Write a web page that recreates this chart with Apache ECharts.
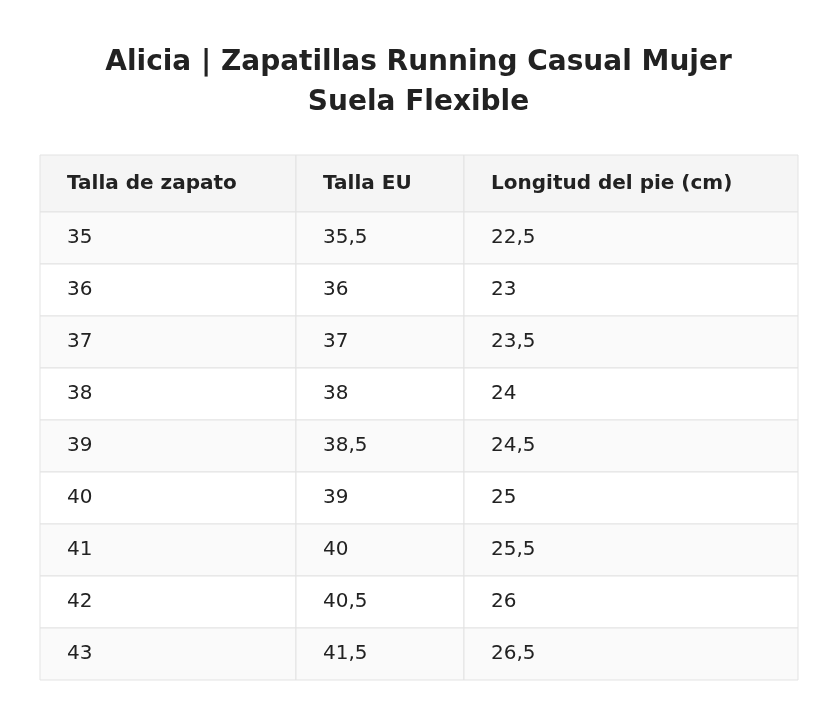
<!DOCTYPE html>
<html>
<head>
<meta charset="utf-8">
<script src="https://cdn.jsdelivr.net/npm/echarts@6/dist/echarts.min.js"></script>
<style>html,body{margin:0;padding:0;background:#fff}#chart{width:837px;height:720px}</style>
</head>
<body>
<div id="chart"></div>
<script>
var chart = echarts.init(document.getElementById('chart'));

var headers = ['Talla de zapato', 'Talla EU', 'Longitud del pie (cm)'];
var shoeSizes = ['35', '36', '37', '38', '39', '40', '41', '42', '43'];
var euSizes = ['35,5', '36', '37', '38', '38,5', '39', '40', '40,5', '41,5'];
var footLength = ['22,5', '23', '23,5', '24', '24,5', '25', '25,5', '26', '26,5'];

// layout in pixels
var colEdges = [40, 296, 464, 798];
var tableTop = 155, headerH = 57, rowH = 52;

var columns = [shoeSizes, euSizes, footLength];
var cells = [];
for (var c = 0; c < headers.length; c++) {
    cells.push([c, 0, headers[c]]);
    for (var r = 0; r < shoeSizes.length; r++) {
        cells.push([c, r + 1, columns[c][r]]);
    }
}

function rowTop(r) {
    return r === 0 ? tableTop : tableTop + headerH + (r - 1) * rowH;
}

function renderCell(params, api) {
    var c = api.value(0), r = api.value(1);
    var p0 = api.coord([colEdges[c], rowTop(r)]);
    var p1 = api.coord([colEdges[c + 1], rowTop(r) + (r === 0 ? headerH : rowH)]);
    var fill = r === 0 ? '#f5f5f5' : (r % 2 === 1 ? '#fafafa' : '#ffffff');
    return {
        type: 'group',
        children: [
            {
                type: 'rect',
                shape: { x: p0[0], y: p0[1], width: p1[0] - p0[0], height: p1[1] - p0[1] },
                style: { fill: fill, stroke: '#e3e3e3', lineWidth: 1 }
            },
            {
                type: 'text',
                x: p0[0] + 27,
                y: (p0[1] + p1[1]) / 2,
                style: {
                    text: api.value(2),
                    fill: '#222',
                    font: (r === 0 ? 'bold ' : '') + '20px "DejaVu Sans"',
                    verticalAlign: 'middle',
                    align: 'left'
                }
            }
        ]
    };
}

chart.setOption({
    animation: false,
    title: {
        text: 'Alicia | Zapatillas Running Casual Mujer\nSuela Flexible',
        left: 'center',
        top: 38,
        textStyle: { fontFamily: 'DejaVu Sans', fontSize: 28, fontWeight: 'bold', color: '#222', lineHeight: 40 }
    },
    grid: { left: 0, top: 0, width: 837, height: 720 },
    xAxis: { type: 'value', min: 0, max: 837, show: false },
    yAxis: { type: 'value', min: 0, max: 720, inverse: true, show: false },
    series: [{
        type: 'custom',
        renderItem: renderCell,
        data: cells
    }]
});
</script>
</body>
</html>
